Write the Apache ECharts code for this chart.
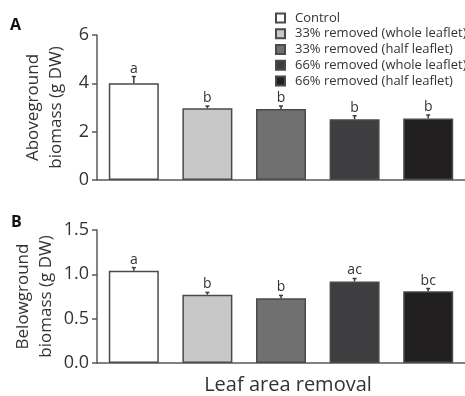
<!DOCTYPE html>
<html><head><meta charset="utf-8">
<script src="https://cdn.jsdelivr.net/npm/echarts@6/dist/echarts.min.js"></script>
<style>html,body{margin:0;padding:0;background:#fff}#c{width:465px;height:396px}</style>
</head><body><div id="c"></div>
<script>
const categories = ['Control', '33% removed (whole leaflet)', '33% removed (half leaflet)', '66% removed (whole leaflet)', '66% removed (half leaflet)'];
const colors = ['#ffffff', '#c8c8c8', '#707070', '#3e3e40', '#221f20'];
const aboveValues = [4.0, 2.97, 2.94, 2.51, 2.55];
const aboveErrors = [0.28, 0.09, 0.12, 0.15, 0.14];
const aboveLetters = ['a', 'b', 'b', 'b', 'b'];
const belowValues = [1.04, 0.77, 0.73, 0.92, 0.81];
const belowErrors = [0.036, 0.026, 0.032, 0.033, 0.03];
const belowLetters = ['a', 'b', 'b', 'ac', 'bc'];
const aboveTicks = [0, 2, 4, 6];
const belowTicks = ['0.0', '0.5', '1.0', '1.5'];

const FONT = 'Open Sans';
const AX = '#5a5a5a';
const chart = echarts.init(document.getElementById('c'), null, {renderer: 'canvas'});

function barSeries(values, axisIdx) {
  return categories.map((name, i) => ({
    name: name,
    type: 'bar',
    xAxisIndex: axisIdx, yAxisIndex: axisIdx,
    barWidth: 50, barGap: '-100%',
    data: values.map((v, j) => j === i ? v : '-'),
    itemStyle: {color: colors[i], borderColor: '#4a4a4a', borderWidth: 1.5},
    emphasis: {disabled: true},
    animation: false
  }));
}
function errSeries(values, errs, letters, axisIdx) {
  return {
    type: 'custom', xAxisIndex: axisIdx, yAxisIndex: axisIdx,
    data: values.map((v, i) => [i, v, errs[i]]),
    encode: {x: 0, y: 1},
    animation: false, silent: true, z: 5,
    renderItem: function (params, api) {
      const x = api.value(0), v = api.value(1), e = api.value(2);
      const base = api.coord([x, v]);
      const top = api.coord([x, v + e]);
      const st = {stroke: '#3a3a3a', lineWidth: 1.5};
      return {type: 'group', children: [
        {type: 'line', shape: {x1: base[0], y1: base[1], x2: top[0], y2: top[1]}, style: st},
        {type: 'line', shape: {x1: top[0] - 2, y1: top[1], x2: top[0] + 2, y2: top[1]}, style: st},
        {type: 'text', style: {text: letters[params.dataIndex], x: top[0], y: top[1] - 1,
          align: 'center', verticalAlign: 'bottom', fill: '#333', font: '14px "' + FONT + '"'}}
      ]};
    }
  };
}
const yName = {fontFamily: FONT, fontSize: 17, color: '#333', lineHeight: 23};
const yLab = {fontFamily: FONT, fontSize: 18, color: '#333', margin: 8};
const option = {
  backgroundColor: '#fff',
  animation: false,
  textStyle: {fontFamily: FONT},
  grid: [
    {left: 97, top: 35, width: 370, height: 145},
    {left: 97, top: 230, width: 370, height: 137.7}
  ],
  legend: {
    data: categories, orient: 'vertical', left: 270, top: 5,
    icon: 'rect', itemWidth: 9, itemHeight: 9, itemGap: 0,
    textStyle: {fontFamily: FONT, fontSize: 13, color: '#333', lineHeight: 15.8, padding: [0, 0, 0, 5]},
    selectedMode: false
  },
  xAxis: [0, 1].map(i => ({
    type: 'category', gridIndex: i, data: categories,
    axisLine: {lineStyle: {color: AX, width: 1.5}},
    axisTick: {show: false}, axisLabel: {show: false},
    name: i === 1 ? 'Leaf area removal' : '', nameLocation: 'middle', nameGap: 12,
    nameMoveOverlap: false,
    nameTextStyle: {fontFamily: FONT, fontSize: 20, color: '#333', padding: [0, 0, 0, 14]}
  })),
  yAxis: [
    {type: 'value', gridIndex: 0, min: 0, max: 6, interval: 2,
     axisLine: {show: true, lineStyle: {color: AX, width: 1.5}},
     axisTick: {show: true, length: 5, lineStyle: {color: AX, width: 1.5}},
     splitLine: {show: false},
     axisLabel: Object.assign({formatter: v => String(aboveTicks[aboveTicks.indexOf(v)])}, yLab),
     name: 'Aboveground\nbiomass (g DW)', nameLocation: 'middle', nameGap: 28, nameTextStyle: yName},
    {type: 'value', gridIndex: 1, min: 0, max: 1.5, interval: 0.5,
     axisLine: {show: true, lineStyle: {color: AX, width: 1.5}},
     axisTick: {show: true, length: 5, lineStyle: {color: AX, width: 1.5}},
     splitLine: {show: false},
     axisLabel: Object.assign({formatter: v => belowTicks[Math.round(v / 0.5)]}, yLab),
     name: 'Belowground\nbiomass (g DW)', nameLocation: 'middle', nameGap: 39,
     nameMoveOverlap: false, nameTextStyle: yName}
  ],
  graphic: [
    {type: 'text', left: 10, top: 17, style: {text: 'A', font: 'bold 16px "' + FONT + '"', fill: '#111'}},
    {type: 'text', left: 11, top: 214, style: {text: 'B', font: 'bold 16px "' + FONT + '"', fill: '#111'}}
  ],
  series: [].concat(
    barSeries(aboveValues, 0),
    barSeries(belowValues, 1),
    [errSeries(aboveValues, aboveErrors, aboveLetters, 0),
     errSeries(belowValues, belowErrors, belowLetters, 1)]
  )
};
chart.setOption(option);
</script></body></html>
